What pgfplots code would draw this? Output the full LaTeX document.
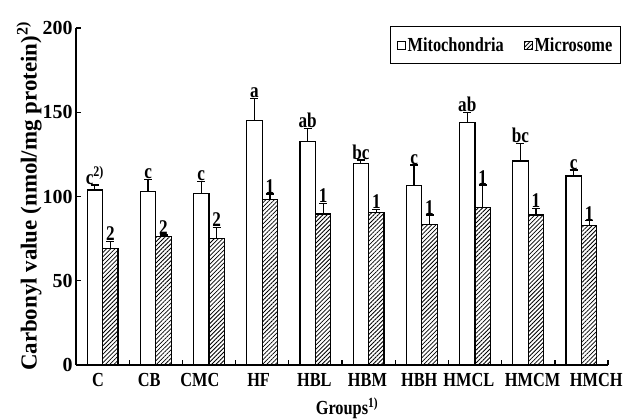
\documentclass[border=0pt]{standalone}
\usepackage{pgfplots}
\pgfplotsset{compat=1.18}
\usepackage{pgfplotstable}
\usepackage{fontspec}
\setmainfont{Liberation Serif}[FakeStretch=0.82]
\newfontfamily\numfont{Liberation Serif}
\usetikzlibrary{patterns,patterns.meta}

\pgfplotstableread{
x grp  mito  mitoerr micro microerr lm                  lu
0 C    103.9 2.9     69.2  4.0      {c\textsuperscript{2)}} 2
1 CB   102.9 7.3     76.2  1.0      c                   2
2 CMC  101.9 6.9     75.2  6.3      c                   2
3 HF   145.0 13.3    98.3  3.2      a                   1
4 HBL  132.5 8.0     89.6  6.4      ab                  1
5 HBM  119.7 2.0     90.4  2.0      bc                  1
6 HBH  106.4 12.3    83.5  5.5      c                   1
7 HMCL 144.0 5.7     93.6  13.2     ab                  1
8 HMCM 121.1 10.5    89.0  4.0      bc                  1
9 HMCH 112.2 3.5     82.7  2.9      c                   1
}\data

\begin{document}
\begin{tikzpicture}
\begin{axis}[
  scale only axis, width=532bp, height=337bp,
  xmin=-0.5, xmax=9.5, ymin=0, ymax=200,
  axis lines=left,
  axis line style={-, line width=1.6pt},
  ybar, bar width=0.29,
  ytick={0,50,100,150,200},
  xtick={0.5,1.5,...,9.5},
  xticklabels={{\hspace*{-9bp}C},{\hspace*{-13bp}CB},{\hspace*{-18bp}CMC},{\hspace*{-7bp}HF},
    {\hspace*{-2bp}HBL},{\hspace*{-2bp}HBM},{\hspace*{-5bp}HBH},{\hspace*{-12bp}HMCL},
    {\hspace*{9bp}HMCM},{\hspace*{30bp}HMCH}},
  xticklabel style={xshift=-26.7bp, yshift=-5bp, font=\bfseries\fontsize{20}{22}\selectfont},
  yticklabel style={font=\numfont\bfseries\fontsize{20}{22}\selectfont},
  /pgf/number format/assume math mode=true,
  major tick length=5bp,
  tick style={line width=1.4pt, black},
  tick align=inside,
  xlabel={Groups\textsuperscript{1)}},
  xlabel style={font=\bfseries\fontsize{20}{22}\selectfont, yshift=-4bp, xshift=5bp},
  ylabel={Carbonyl value (nmol/mg protein)\textsuperscript{2)}},
  ylabel style={font=\numfont\bfseries\fontsize{23}{25}\selectfont},
  ylabel shift=-6bp,
  legend columns=2,
  legend style={draw=black, line width=1pt, at={(rel axis cs:1.024,1.006)}, anchor=north east,
    font=\bfseries\fontsize{20}{22}\selectfont, inner xsep=6bp, inner ysep=9bp,
    /tikz/every even column/.append style={column sep=18bp}},
  legend image code/.code={\draw[#1, line width=0.7pt] (0bp,-4bp) rectangle (8bp,4bp);},
  nodes near coords style={font=\bfseries\fontsize{21}{23}\selectfont, inner sep=0.5bp, anchor=south},
]
\addplot[fill=white, draw=black, line width=1.2pt, bar shift=-0.145,
  error bars/.cd, y dir=plus, y explicit,
  error bar style={line width=1.2pt, black},
  error mark options={rotate=90, mark size=4bp, line width=1.2pt, black}]
  table[x=x, y=mito, y error=mitoerr] {\data};
\addlegendentry{\textbf{Mitochondria}}
\addplot[pattern={Lines[angle=45, distance=3bp, line width=0.8bp]}, pattern color=black, draw=black, line width=1.2pt, bar shift=0.145,
  error bars/.cd, y dir=plus, y explicit,
  error bar style={line width=1.2pt, black},
  error mark options={rotate=90, mark size=4bp, line width=1.2pt, black}]
  table[x=x, y=micro, y error=microerr] {\data};
\addlegendentry{\textbf{Microsome}}
\addplot[draw=none, fill=none, bar shift=-0.145, forget plot, nodes near coords, point meta=explicit symbolic]
  table[x=x, y expr=\thisrow{mito}+\thisrow{mitoerr}, meta=lm] {\data};
\addplot[draw=none, fill=none, bar shift=0.145, forget plot, nodes near coords, point meta=explicit symbolic]
  table[x=x, y expr=\thisrow{micro}+\thisrow{microerr}, meta=lu] {\data};
\coordinate (o) at (rel axis cs:0,0);
\end{axis}
\pgfresetboundingbox
\path[use as bounding box] ([shift={(-76bp,-54bp)}]o) rectangle ([shift={(551bp,365bp)}]o);
\end{tikzpicture}
\end{document}
